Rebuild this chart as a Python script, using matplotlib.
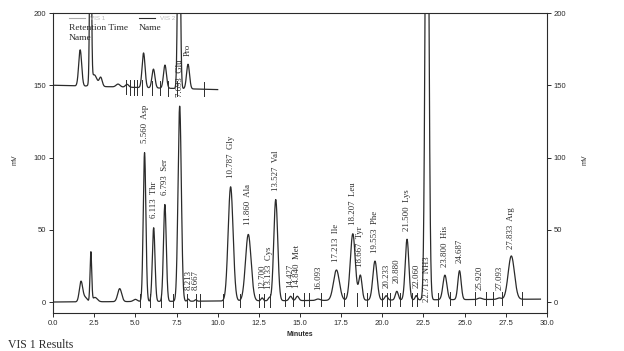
"""Amino acid chromatogram (VIS 1 with VIS 2 overlay offset at 150 mV)."""

import numpy as np
import matplotlib.pyplot as plt

# VIS 1 peaks: retention time (min), height (mV), width (min), label name
vis1_times = [1.70, 1.95, 2.30, 2.55, 4.05, 5.00, 5.560, 6.113, 6.793, 7.693,
              8.213, 8.667, 10.787, 11.860, 12.700, 13.133, 13.527, 14.427,
              14.840, 16.093, 17.213, 18.207, 18.667, 19.553, 20.233, 20.880,
              21.500, 22.060, 22.713, 23.800, 24.687, 25.920, 27.093, 27.833]
vis1_heights = [14, 3, 34, 3, 9, 1.5, 103, 51, 67, 135,
                1.5, 1, 79, 46, 2, 2, 70, 3,
                3, 1, 21, 46, 17, 27, 3, 6,
                42, 3, 420, 17, 20, 1, 1, 30]
vis1_widths = [0.10, 0.12, 0.05, 0.14, 0.12, 0.12, 0.08, 0.08, 0.085, 0.10,
               0.06, 0.06, 0.15, 0.17, 0.07, 0.07, 0.12, 0.09,
               0.09, 0.12, 0.18, 0.15, 0.10, 0.13, 0.09, 0.09,
               0.11, 0.07, 0.10, 0.12, 0.10, 0.12, 0.12, 0.19]
vis1_names = [None, None, None, None, None, None, "Asp", "Thr", "Ser", "Glu",
              "", "", "Gly", "Ala", "", "Cys", "Val", "",
              "Met", "", "Ile", "Leu", "Tyr", "Phe", "", "",
              "Lys", "", "NH3", "His", "", "", "", "Arg"]
vis1_base = (0.0, 2.0)

# integration marks on the VIS 1 baseline
vis1_marks = [5.28, 5.89, 6.56, 7.29, 8.14, 8.68, 8.93, 10.32, 11.33, 12.5,
              12.8, 13.2, 14.1, 14.6, 15.25, 15.55, 16.3, 17.7, 18.45, 19.05,
              19.97, 20.28, 20.46, 21.07, 21.8, 22.1, 23.4, 24.1, 25.6, 26.3,
              26.7, 27.26, 28.5]

# VIS 2 overlay (offset by 150 mV)
vis2_times = [1.65, 2.28, 2.50, 2.90, 3.95, 4.50, 5.50, 6.10, 6.80, 7.65, 8.20]
vis2_heights = [25, 150, 8, 6, 2, 2, 24, 13, 16, 190, 17]
vis2_widths = [0.09, 0.05, 0.17, 0.09, 0.12, 0.10, 0.09, 0.09, 0.09, 0.07, 0.09]
vis2_names = ["", "", "", "", "", "", "", "", "", "", "Pro"]
vis2_base = (150.0, 147.0)
vis2_marks = [4.43, 4.68, 4.90, 5.10, 5.40, 6.00, 6.50, 7.00, 7.50, 9.20]

x_ticks = [0.0, 2.5, 5.0, 7.5, 10.0, 12.5, 15.0, 17.5, 20.0, 22.5, 25.0, 27.5, 30.0]
y_ticks = [0, 50, 100, 150, 200]


def trace(t, times, heights, widths, base):
    y = np.interp(t, [t[0], t[-1]], base)
    for c, h, w in zip(times, heights, widths):
        y = y + h * np.exp(-0.5 * ((t - c) / w) ** 2)
    return y


ink = "#2b2b2b"
serif = ["Liberation Serif", "DejaVu Serif"]
sans = ["Liberation Sans", "DejaVu Sans"]

fig = plt.figure(figsize=(6.24, 3.51), dpi=100)
ax = fig.add_axes([53 / 624, 1 - 313 / 351, (547 - 53) / 624, 300 / 351])

t1 = np.linspace(0, 29.6, 8000)
y1 = trace(t1, vis1_times, vis1_heights, vis1_widths, vis1_base)
ax.plot(t1, y1, color=ink, lw=0.9)

t2 = np.linspace(0, 10, 3000)
y2 = trace(t2, vis2_times, vis2_heights, vis2_widths, vis2_base)
ax.plot(t2, y2, color=ink, lw=0.9)

# baseline integration marks
for m in vis1_marks:
    b = np.interp(m, [0, 29.6], vis1_base)
    ax.plot([m, m], [b - 4, b + 5], color=ink, lw=0.7)
for m in vis2_marks:
    b = np.interp(m, [0, 10], vis2_base)
    ax.plot([m, m], [b - 5, b + 5], color=ink, lw=0.7)

# peak labels
for c, h, name in zip(vis1_times, vis1_heights, vis1_names):
    if name is None:
        continue
    txt = "%.3f" % c if name == "" else "%.3f  %s" % (c, name)
    ybot = h + 7 if h < 190 else 0
    ax.text(c, ybot, txt, rotation=90, ha="center", va="bottom",
            fontsize=6.3, family=serif, color=ink)
for c, h, name in zip(vis2_times, vis2_heights, vis2_names):
    if name:
        b = np.interp(c, [0, 10], vis2_base)
        ax.text(c, b + h + 6, name, rotation=90, ha="center", va="bottom",
                fontsize=6.3, family=serif, color=ink)

# legend header
ax.plot([0.95, 1.95], [196.5, 196.5], color="#aaaaaa", lw=0.8)
ax.text(2.25, 196.5, "VIS 1", fontsize=4.5, family=sans, color="#bbbbbb", va="center")
ax.plot([5.2, 6.2], [196.5, 196.5], color=ink, lw=0.8)
ax.text(6.5, 196.5, "VIS 2", fontsize=4.5, family=sans, color="#bbbbbb", va="center")
ax.text(0.95, 189.5, "Retention Time", fontsize=6.8, family=serif, color=ink, va="center")
ax.text(0.95, 183.0, "Name", fontsize=6.8, family=serif, color=ink, va="center")
ax.text(5.2, 189.5, "Name", fontsize=6.8, family=serif, color=ink, va="center")

ax.set_xlim(0, 30)
ax.set_ylim(-7.6, 200)
ax.set_xticks(x_ticks)
ax.set_xticklabels(["%.1f" % v for v in x_ticks])
ax.set_yticks(y_ticks)
ax.yaxis.set_ticks_position("both")
ax.tick_params(axis="both", direction="out", length=3, width=0.7, colors=ink,
               labelsize=5.5, pad=2)
ax.tick_params(axis="y", labelright=True)
for lab in ax.get_xticklabels() + ax.get_yticklabels():
    lab.set_family(sans)
for s in ax.spines.values():
    s.set_color(ink)
    s.set_linewidth(0.8)

ax.set_xlabel("Minutes", fontsize=5, family=sans, fontweight="bold", color=ink, labelpad=3)
fig.text(15 / 624, 1 - 160 / 351, "mV", rotation=90, fontsize=5, family=sans,
         color=ink, ha="center", va="center")
fig.text(585 / 624, 1 - 160 / 351, "mV", rotation=90, fontsize=5, family=sans,
         color=ink, ha="center", va="center")
fig.text(8 / 624, 1 - 345 / 351, "VIS 1 Results", fontsize=8.5, family=serif,
         color=ink, ha="left", va="center")

fig.savefig("out.png", dpi=100)
